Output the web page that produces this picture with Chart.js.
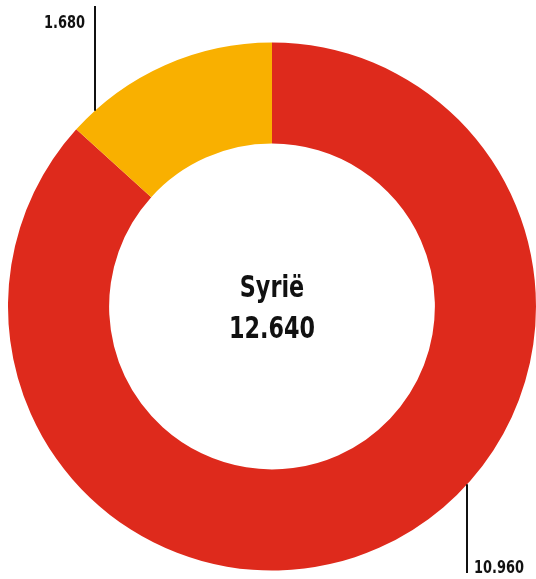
<!DOCTYPE html>
<html>
<head>
<meta charset="utf-8">
<script src="https://cdn.jsdelivr.net/npm/chart.js@4"></script>
<style>
  html, body { margin: 0; padding: 0; background: #ffffff; }
  #wrap { width: 536px; height: 579px; position: relative; }
</style>
</head>
<body>
<div id="wrap"><canvas id="c" width="536" height="579"></canvas></div>
<script>
const categories = ["Andere", "Overig"];
const values = [10960, 1680];
const valueLabels = ["10.960", "1.680"];
const centerTitle = "Syrië";
const centerTotal = "12.640";
const colors = ["#de2a1c", "#f9b000"];
// where along each slice the label leader line meets the ring (fraction of the slice)
const leaderFractions = [0.424, 0.12];

const FONT = '"Liberation Sans Narrow", "DejaVu Sans Condensed", "Arial Narrow", sans-serif';
const SQUEEZE = 0.8; // horizontal condensing to mimic the narrow display face

function narrowText(ctx, text, x, y, align) {
  ctx.save();
  ctx.translate(x, y);
  ctx.scale(SQUEEZE, 1);
  ctx.textAlign = align;
  ctx.fillText(text, 0, 0);
  ctx.restore();
}

const labelPlugin = {
  id: 'labels',
  afterDraw(chart) {
    const ctx = chart.ctx;
    const meta = chart.getDatasetMeta(0);
    const first = meta.data[0];
    const cx = first.x, cy = first.y;
    ctx.save();
    ctx.fillStyle = '#111111';
    ctx.textBaseline = 'alphabetic';
    ctx.font = 'bold 31px ' + FONT;
    narrowText(ctx, centerTitle, cx, cy - 9.5, 'center');
    narrowText(ctx, centerTotal, cx, cy + 31.5, 'center');

    meta.data.forEach((arc, i) => {
      const p = arc.getProps(['startAngle', 'endAngle', 'outerRadius'], true);
      const a = p.startAngle + (p.endAngle - p.startAngle) * leaderFractions[i];
      const x = Math.round(cx + Math.cos(a) * p.outerRadius);
      const y = cy + Math.sin(a) * p.outerRadius;
      const up = y < cy;
      const yEnd = up ? 6 : chart.height - 6;
      ctx.strokeStyle = '#111111';
      ctx.lineWidth = 2;
      ctx.beginPath();
      ctx.moveTo(x, y);
      ctx.lineTo(x, yEnd);
      ctx.stroke();
      ctx.font = 'bold 18px ' + FONT;
      if (up) {
        narrowText(ctx, valueLabels[i], x - 10, 28, 'right');
      } else {
        narrowText(ctx, valueLabels[i], x + 7, chart.height - 6, 'left');
      }
    });
    ctx.restore();
  }
};

new Chart(document.getElementById('c'), {
  type: 'doughnut',
  data: {
    labels: categories,
    datasets: [{
      data: values,
      backgroundColor: colors,
      borderWidth: 0,
      hoverOffset: 0
    }]
  },
  options: {
    responsive: false,
    animation: false,
    cutout: '61.7%',
    layout: { padding: { left: 8, right: 0, top: 42, bottom: 8 } },
    plugins: { legend: { display: false }, tooltip: { enabled: false } }
  },
  plugins: [labelPlugin]
});
</script>
</body>
</html>
